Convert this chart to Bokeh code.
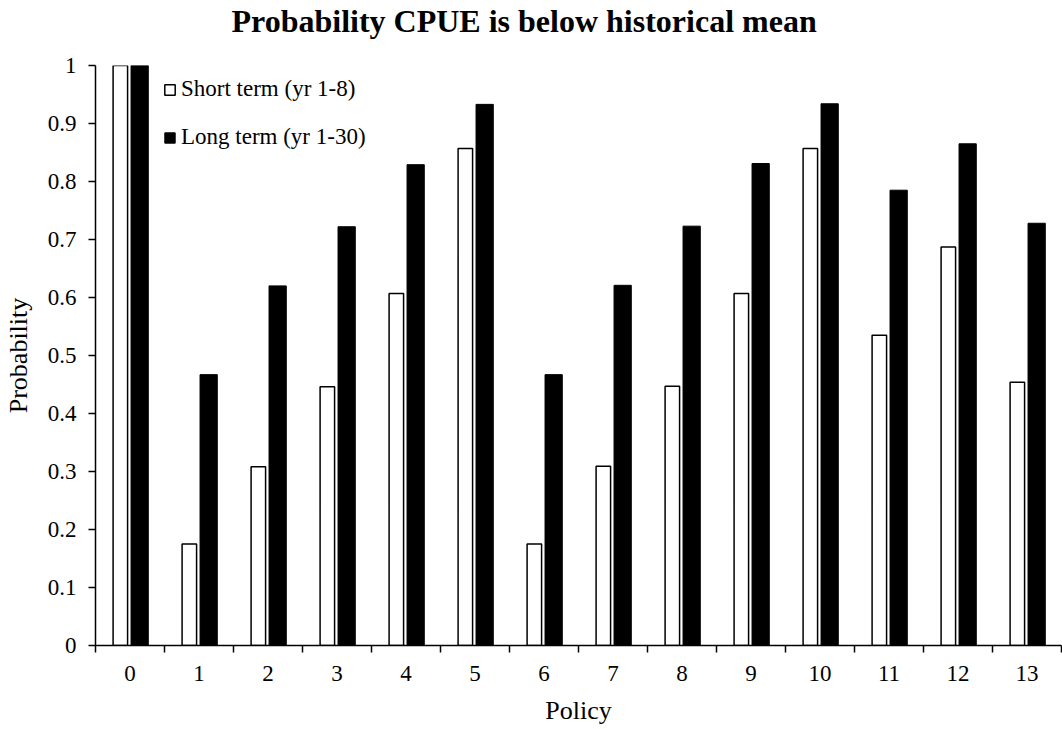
from bokeh.plotting import figure
from bokeh.models import FixedTicker, Legend, LegendItem, ColumnDataSource, Range1d, Title
from bokeh.transform import dodge
from bokeh.embed import file_html
from bokeh.resources import INLINE

policies = ["0", "1", "2", "3", "4", "5", "6", "7", "8", "9", "10", "11", "12", "13"]
short_term = [1.0, 0.175, 0.308, 0.446, 0.607, 0.857, 0.175, 0.309, 0.447, 0.607, 0.857, 0.535, 0.687, 0.454]
long_term = [1.0, 0.467, 0.620, 0.722, 0.829, 0.933, 0.467, 0.621, 0.723, 0.831, 0.934, 0.785, 0.865, 0.728]
y_ticks = [0, 0.1, 0.2, 0.3, 0.4, 0.5, 0.6, 0.7, 0.8, 0.9, 1]
y_tick_labels = ["0", "0.1", "0.2", "0.3", "0.4", "0.5", "0.6", "0.7", "0.8", "0.9", "1"]
title_text = "Probability CPUE is below historical mean"

FONT = "Liberation Serif"

centers = [i + 0.5 for i in range(len(policies))]
src = ColumnDataSource(dict(x=centers, short=short_term, long=long_term))

p = figure(width=1062, height=729, output_backend="svg", toolbar_location=None,
           x_range=Range1d(0, len(policies)), y_range=Range1d(0, 1), title=None,
           min_border_left=93, min_border_right=1, min_border_top=65, min_border_bottom=84)
p.outline_line_color = None
p.xgrid.visible = False
p.ygrid.visible = False

r1 = p.vbar(x=dodge("x", -0.14, range=p.x_range), top="short", width=0.21, source=src,
            fill_color="white", line_color="black", line_width=1.5)
r2 = p.vbar(x=dodge("x", 0.14, range=p.x_range), top="long", width=0.25, source=src,
            fill_color="black", line_color="black", line_width=1)

# spacer (closest to the frame) then the real title above it
spacer = Title(text=" ", text_font_size="10px", standoff=14, text_color="white")
p.add_layout(spacer, "above")
main_title = Title(text=title_text, text_font=FONT, text_font_size="32px",
                   text_font_style="bold", text_color="black", align="left",
                   offset=136, standoff=0, vertical_align="bottom")
p.add_layout(main_title, "above")

# x axis
xa = p.xaxis[0]
xa.ticker = FixedTicker(ticks=centers, minor_ticks=list(range(len(policies) + 1)))
xa.major_label_overrides = {c: lab for c, lab in zip(centers, policies)}
xa.major_tick_out = 0
xa.major_tick_in = 0
xa.minor_tick_out = 7
xa.minor_tick_in = 0
xa.minor_tick_line_color = "black"
xa.minor_tick_line_width = 1.5
xa.axis_line_color = "black"
xa.axis_line_width = 1.5
xa.major_label_text_font = FONT
xa.major_label_text_font_size = "23px"
xa.major_label_text_color = "black"
xa.major_label_standoff = 13
xa.axis_label = "Policy"
xa.axis_label_text_font = FONT
xa.axis_label_text_font_size = "26px"
xa.axis_label_text_font_style = "normal"
xa.axis_label_text_color = "black"
xa.axis_label_standoff = 12

# y axis
ya = p.yaxis[0]
ya.ticker = FixedTicker(ticks=y_ticks, minor_ticks=[])
ya.major_label_overrides = {t: lab for t, lab in zip(y_ticks, y_tick_labels)}
ya.major_tick_out = 7
ya.major_tick_in = 0
ya.major_tick_line_width = 1.5
ya.axis_line_width = 1.5
ya.major_label_text_font = FONT
ya.major_label_text_font_size = "23px"
ya.major_label_text_color = "black"
ya.major_label_standoff = 12
ya.axis_label = "Probability"
ya.axis_label_text_font = FONT
ya.axis_label_text_font_size = "26px"
ya.axis_label_text_font_style = "normal"
ya.axis_label_text_color = "black"
ya.axis_label_standoff = 12

legend = Legend(items=[LegendItem(label="Short term (yr 1-8)", renderers=[r1]),
                       LegendItem(label="Long term (yr 1-30)", renderers=[r2])],
                location=(68, 495), orientation="vertical")
legend.label_text_font = FONT
legend.label_text_font_size = "23px"
legend.label_text_color = "black"
legend.glyph_width = 13
legend.glyph_height = 13
legend.label_standoff = 5
legend.spacing = 22
legend.padding = 3
legend.margin = 0
legend.background_fill_alpha = 0
legend.border_line_color = None
p.add_layout(legend)

open("out.html", "w").write(file_html(p, INLINE))
